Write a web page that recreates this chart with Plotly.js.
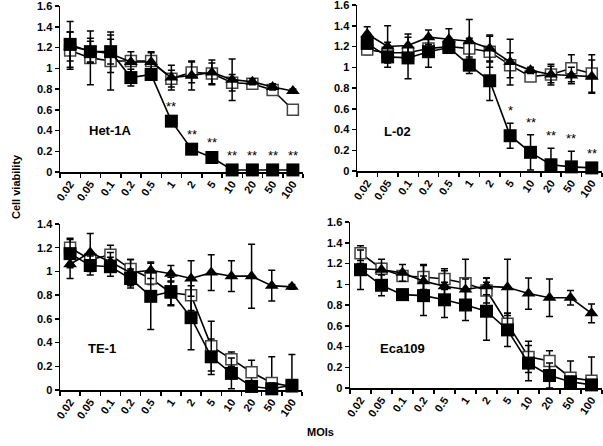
<!DOCTYPE html>
<html>
<head>
<meta charset="utf-8">
<script src="https://cdn.plot.ly/plotly-3.0.1.min.js"></script>
<style>
html,body{margin:0;padding:0;background:#fff;}
#chart{width:603px;height:446px;}
</style>
</head>
<body>
<div id="chart"></div>
<script>
// Categories (MOIs)
const mois = ['0.02','0.05','0.1','0.2','0.5','1','2','5','10','20','50','100'];

// Panel names
const panelNames = ['Het-1A','L-02','TE-1','Eca109'];

// Het-1A
const hetFilled = [1.23,1.16,1.16,0.91,0.94,0.49,0.22,0.14,0.02,0.02,0.02,0.02];
const hetFilledErr = [0.22,0.10,0.12,0.08,0.05,0.02,0.02,0.02,0.02,0.02,0.02,0.02];
const hetOpen = [1.17,1.10,1.07,1.07,1.07,0.90,0.96,0.95,0.86,0.85,0.79,0.60];
const hetOpenErr = [0.18,0.26,0.28,0.05,0.08,0.08,0.10,0.10,0.08,0.03,0.02,0.02];
const hetTri = [1.21,1.17,1.14,1.06,1.06,0.91,0.93,0.96,0.89,0.87,0.82,0.78];
const hetTriErr = [0.14,0.12,0.18,0.10,0.10,0.12,0.14,0.12,0.20,0.03,0.03,0.02];
const hetStars = ['','','','','','**','**','**','**','**','**','**'];

// L-02
const l02Filled = [1.23,1.10,1.09,1.15,1.19,1.02,0.87,0.34,0.18,0.06,0.04,0.03];
const l02FilledErr = [0.05,0.05,0.20,0.15,0.05,0.08,0.19,0.12,0.17,0.16,0.15,0.02];
const l02Open = [1.17,1.14,1.14,1.18,1.20,1.18,1.15,1.02,0.91,0.93,0.99,0.94];
const l02OpenErr = [0.05,0.10,0.05,0.05,0.05,0.10,0.15,0.12,0.03,0.08,0.13,0.18];
const l02Tri = [1.32,1.20,1.21,1.29,1.27,1.25,1.18,1.05,0.97,0.93,0.92,0.91];
const l02TriErr = [0.07,0.20,0.11,0.07,0.10,0.21,0.13,0.22,0.03,0.10,0.08,0.16];
const l02Stars = ['','','','','','','','*','**','**','**','**'];

// TE-1
const te1Filled = [1.15,1.05,1.04,0.94,0.79,0.83,0.61,0.28,0.14,0.03,0.01,0.04];
const te1FilledErr = [0.12,0.08,0.08,0.08,0.28,0.12,0.27,0.15,0.13,0.02,0.05,0.02];
const te1Open = [1.20,1.10,1.14,1.02,0.94,0.82,0.80,0.37,0.26,0.15,0.06,0.03];
const te1OpenErr = [0.08,0.05,0.08,0.08,0.05,0.10,0.13,0.21,0.06,0.10,0.22,0.27];
const te1Tri = [1.06,1.16,1.08,0.99,1.01,0.98,0.94,0.99,0.96,0.96,0.88,0.87];
const te1TriErr = [0.12,0.16,0.08,0.11,0.07,0.07,0.15,0.15,0.13,0.27,0.13,0.02];

// Eca109
const ecaFilled = [1.14,0.99,0.90,0.89,0.85,0.80,0.74,0.56,0.24,0.12,0.06,0.03];
const ecaFilledErr = [0.19,0.10,0.05,0.19,0.17,0.15,0.28,0.16,0.17,0.12,0.05,0.03];
const ecaOpen = [1.30,1.15,1.08,1.07,1.05,1.01,0.94,0.62,0.30,0.26,0.10,0.07];
const ecaOpenErr = [0.07,0.05,0.05,0.12,0.10,0.23,0.12,0.10,0.15,0.10,0.16,0.23];
const ecaTri = [1.15,1.14,1.11,1.03,0.98,0.95,0.98,0.97,0.91,0.87,0.87,0.72];
const ecaTriErr = [0.05,0.10,0.08,0.15,0.15,0.10,0.08,0.27,0.15,0.18,0.07,0.09];

const W = 603, H = 446;
const FONT = 'Liberation Sans, Arial, sans-serif';
const idx = mois.map((m,i)=>i);

const panels = [
  {f:hetFilled, fe:hetFilledErr, o:hetOpen, oe:hetOpenErr, t:hetTri, te:hetTriErr, stars:hetStars,
   px:[60,303], py:[6,172], ymax:1.6, label:[2,0.40]},
  {f:l02Filled, fe:l02FilledErr, o:l02Open, oe:l02OpenErr, t:l02Tri, te:l02TriErr, stars:l02Stars,
   px:[357,602], py:[5,171], ymax:1.6, label:[1.5,0.38]},
  {f:te1Filled, fe:te1FilledErr, o:te1Open, oe:te1OpenErr, t:te1Tri, te:te1TriErr, stars:null,
   px:[60,302], py:[224,390], ymax:1.4, label:[1.6,0.35]},
  {f:ecaFilled, fe:ecaFilledErr, o:ecaOpen, oe:ecaOpenErr, t:ecaTri, te:ecaTriErr, stars:null,
   px:[350,602], py:[222,388], ymax:1.6, label:[2,0.38]}
];

const traces = [];
const layout = {
  width: W, height: H,
  margin: {l:0, r:0, t:0, b:0},
  paper_bgcolor: '#fff', plot_bgcolor: 'rgba(0,0,0,0)',
  showlegend: false,
  font: {family: FONT, color: '#000'},
  annotations: []
};

function errObj(arr){
  return {type:'data', array:arr, visible:true, color:'#000', thickness:1.5, width:3.5};
}

panels.forEach((p, k) => {
  const n = k + 1;
  const xa = n === 1 ? 'x' : 'x' + n;
  const ya = n === 1 ? 'y' : 'y' + n;
  const xk = n === 1 ? 'xaxis' : 'xaxis' + n;
  const yk = n === 1 ? 'yaxis' : 'yaxis' + n;

  traces.push({x: idx, y: p.o, xaxis: xa, yaxis: ya, mode: 'lines+markers', type: 'scatter',
    line: {color:'#000', width:1.6},
    marker: {symbol:'square', size:11, color:'#fff', line:{color:'#444', width:1.5}},
    error_y: errObj(p.oe), cliponaxis: false});
  traces.push({x: idx, y: p.t, xaxis: xa, yaxis: ya, mode: 'lines+markers', type: 'scatter',
    line: {color:'#000', width:1.6},
    marker: {symbol:'triangle-up', size:12, color:'#000', line:{color:'#000', width:0}},
    error_y: errObj(p.te), cliponaxis: false});
  traces.push({x: idx, y: p.f, xaxis: xa, yaxis: ya, mode: 'lines+markers', type: 'scatter',
    line: {color:'#000', width:1.6},
    marker: {symbol:'square', size:13, color:'#000', line:{color:'#000', width:0}},
    error_y: errObj(p.fe), cliponaxis: false});

  layout[xk] = {
    domain: [p.px[0]/W, p.px[1]/W],
    anchor: ya, type: 'linear',
    range: [-0.5, 11.5],
    tickmode: 'array', tickvals: idx, ticktext: mois,
    showline: true, linecolor: '#000', linewidth: 1.5,
    ticks: '',
    minor: {tickmode:'array', tickvals: idx.map(v=>v-0.5).concat([11.5]),
      ticks:'outside', ticklen:4, tickwidth:1.5, tickcolor:'#000', showgrid:false},
    showgrid: false, zeroline: false,
    tickangle: -55,
    tickfont: {family: FONT, size: 11, color:'#000', weight: 'bold'},
    ticklabeloverflow: 'allow',
    fixedrange: true
  };

  layout[yk] = {
    domain: [1 - p.py[1]/H, 1 - p.py[0]/H],
    anchor: xa,
    range: [0, p.ymax + 1e-6],
    dtick: 0.2, tick0: 0,
    showline: true, linecolor: '#000', linewidth: 1.5,
    ticks: 'outside', ticklen: 4, tickwidth: 1.5, tickcolor: '#000',
    showgrid: false, zeroline: false,
    tickfont: {family: FONT, size: 11, color:'#000', weight: 'bold'},
    ticklabeloverflow: 'allow',
    fixedrange: true
  };

  layout.annotations.push({x: p.label[0], y: p.label[1], xref: xa, yref: ya,
    text: panelNames[k], showarrow: false,
    font: {family: FONT, size: 13, color:'#000', weight: 'bold'}});

  if (p.stars) {
    p.stars.forEach((s, i) => {
      if (!s) return;
      layout.annotations.push({x: i, y: p.f[i] + p.fe[i], xref: xa, yref: ya, text: s, showarrow: false,
        yanchor: 'bottom', yshift: 3,
        font: {family: FONT, size: 13, color:'#000'}});
    });
  }
});

layout.annotations.push({x: 8/W, y: 1 - 187/H, xref:'paper', yref:'paper', text:'Cell viability',
  showarrow:false, textangle:-90, font:{family:FONT, size:11, color:'#000', weight:'bold'}});
layout.annotations.push({x: 320/W, y: 1 - 440/H, xref:'paper', yref:'paper', text:'MOIs',
  showarrow:false, font:{family:FONT, size:11, color:'#000', weight:'bold'}});

Plotly.newPlot('chart', traces, layout, {staticPlot:true, displayModeBar:false});
</script>
</body>
</html>
